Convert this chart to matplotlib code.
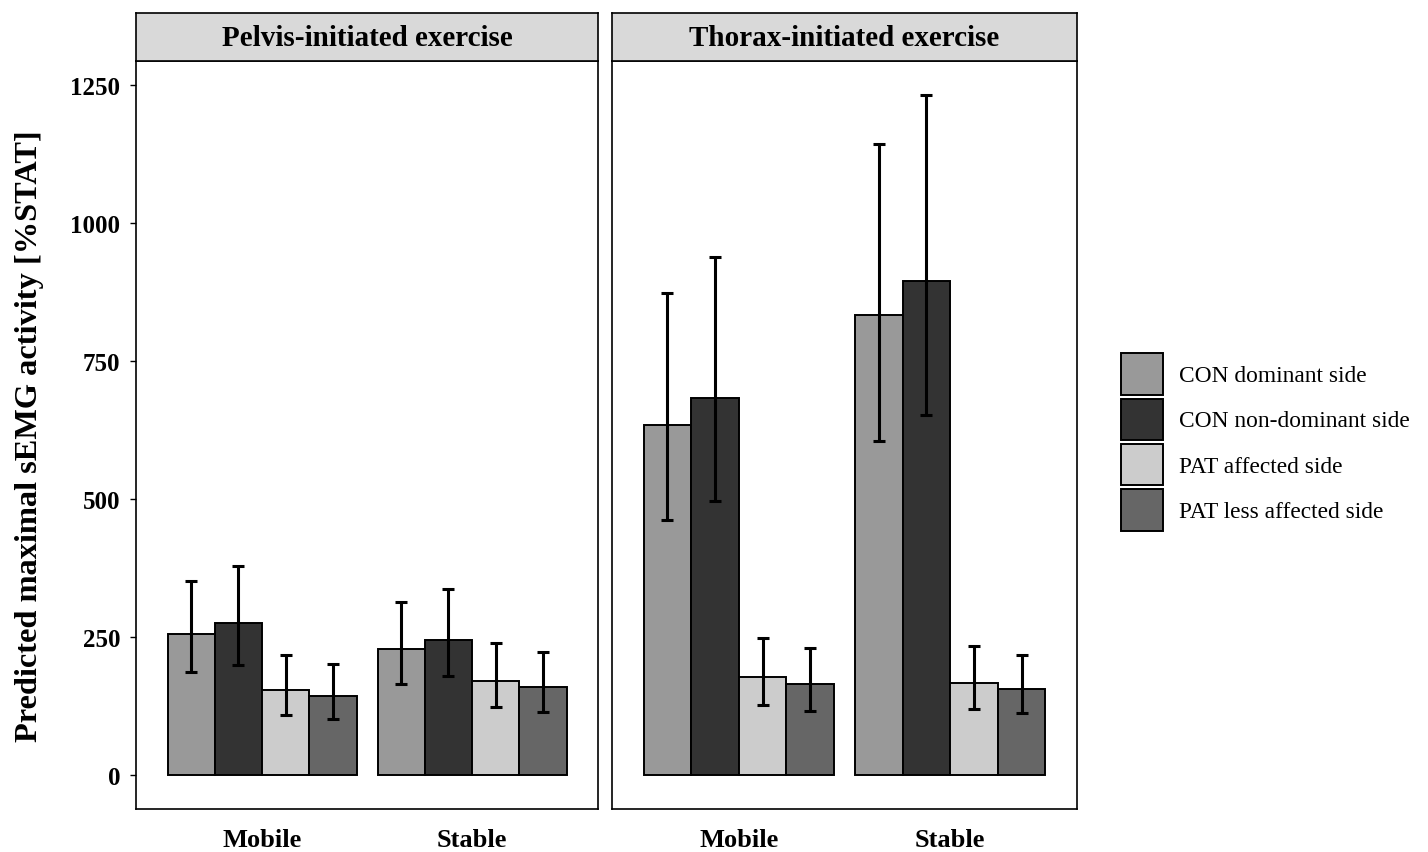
import matplotlib
matplotlib.use("Agg")
import matplotlib.pyplot as plt
import numpy as np

plt.rcParams['font.family'] = ['Liberation Serif', 'DejaVu Serif']

exercises = ["Pelvis-initiated exercise", "Thorax-initiated exercise"]
conditions = ["Mobile", "Stable"]
groups = ["CON dominant side", "CON non-dominant side", "PAT affected side", "PAT less affected side"]
colors = ["#999999", "#333333", "#cccccc", "#666666"]

# values per condition (Mobile, Stable), one entry per group
pelvis_mean = [[255, 276, 154, 144], [228, 245, 171, 159]]
pelvis_low = [[186, 200, 109, 101], [165, 179, 123, 114]]
pelvis_high = [[352, 379, 217, 201], [314, 337, 240, 222]]

thorax_mean = [[634, 683, 177, 165], [833, 895, 167, 156]]
thorax_low = [[462, 497, 126, 116], [605, 652, 120, 112]]
thorax_high = [[873, 939, 249, 231], [1144, 1232, 234, 217]]

panels = [
    (pelvis_mean, pelvis_low, pelvis_high),
    (thorax_mean, thorax_low, thorax_high),
]

W, H = 1428, 853
fig = plt.figure(figsize=(W / 100, H / 100), dpi=100)

def fx(px):
    return px / W

def fy(px):
    return 1 - px / H

panel_left = [136, 612]
panel_right = [598, 1077]
panel_top, panel_bottom = 62, 810
strip_top = 14

ymax_data = 1232
ylim = (-0.05 * ymax_data, 1.05 * ymax_data)
bar_w = 0.9 / len(groups)

handles = None
for k, (mean, low, high) in enumerate(panels):
    l, r = panel_left[k], panel_right[k]
    ax = fig.add_axes([fx(l), fy(panel_bottom), fx(r - l), fy(panel_top) - fy(panel_bottom)])
    hs = []
    for g in range(len(groups)):
        xs = np.arange(1, len(conditions) + 1) - 0.45 + bar_w * (g + 0.5)
        m = np.array([mean[c][g] for c in range(len(conditions))])
        lo = np.array([low[c][g] for c in range(len(conditions))])
        hi = np.array([high[c][g] for c in range(len(conditions))])
        b = ax.bar(xs, m, width=bar_w, color=colors[g], edgecolor="black", linewidth=1.4,
                   label=groups[g], zorder=2)
        hs.append(b)
        ax.errorbar(xs, m, yerr=[m - lo, hi - m], fmt="none", ecolor="black",
                    elinewidth=2.2, capsize=4, capthick=2.2, zorder=3)
    handles = hs
    ax.set_xlim(0.4, len(conditions) + 0.6)
    ax.set_ylim(*ylim)
    ax.set_xticks(np.arange(1, len(conditions) + 1))
    ax.set_xticklabels(conditions, fontsize=19, fontweight="bold")
    ax.tick_params(axis="x", length=0, pad=14)
    ax.set_yticks([0, 250, 500, 750, 1000, 1250])
    if k == 0:
        ax.set_yticklabels(["0", "250", "500", "750", "1000", "1250"], fontsize=18, fontweight="bold")
        ax.tick_params(axis="y", length=4.3, width=1, pad=7)
    else:
        ax.tick_params(axis="y", left=False, labelleft=False)
    for s in ax.spines.values():
        s.set_linewidth(1.2)
        s.set_color("black")

    sax = fig.add_axes([fx(l), fy(panel_top), fx(r - l), fy(strip_top) - fy(panel_top)])
    sax.set_facecolor("#d9d9d9")
    sax.set_xticks([])
    sax.set_yticks([])
    for s in sax.spines.values():
        s.set_linewidth(1.2)
        s.set_color("black")
    sax.text(0.5, 0.5, exercises[k], transform=sax.transAxes, ha="center", va="center",
             fontsize=21, fontweight="bold")

fig.text(fx(30), fy((panel_top + panel_bottom) / 2), "Predicted maximal sEMG activity [%STAT]",
         rotation=90, ha="center", va="center", fontsize=23.3, fontweight="bold")

fig.legend(handles, groups, loc="center left", bbox_to_anchor=(fx(1121), fy(443)),
           frameon=False, fontsize=16.8, handlelength=1.8, handleheight=2.36,
           labelspacing=0.17, handletextpad=0.7, borderpad=0, borderaxespad=0)

fig.savefig("out.png", dpi=100)
